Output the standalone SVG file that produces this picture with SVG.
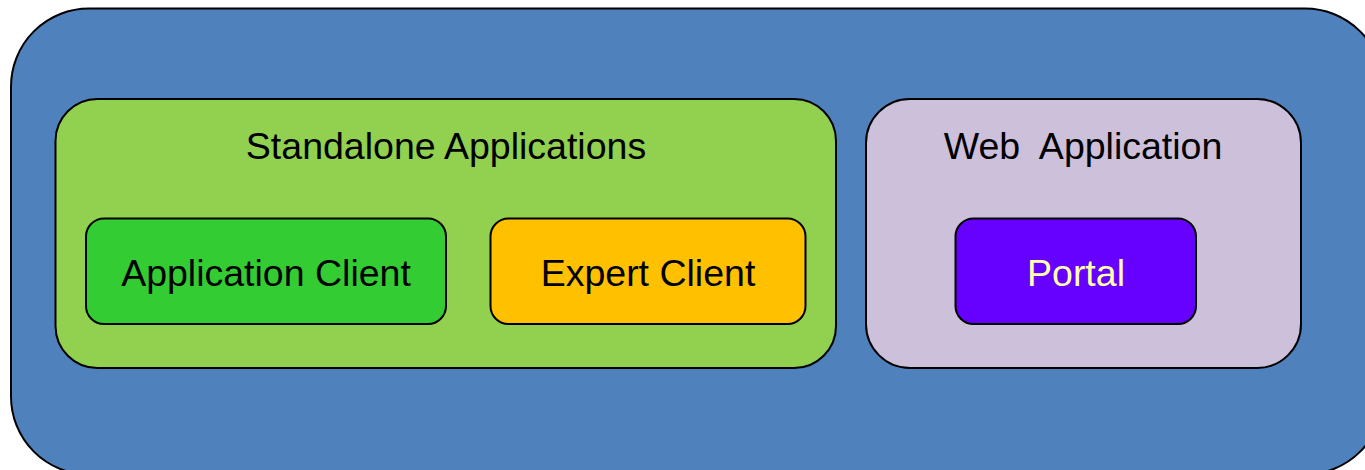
<svg xmlns="http://www.w3.org/2000/svg" width="1365" height="470" viewBox="0 0 1365 470">
<style>
.b{stroke:#000;stroke-width:2}
text{font-family:"Liberation Sans",Arial,sans-serif;font-size:37.5px;text-anchor:middle;fill:#000}
</style>
<rect width="1365" height="470" fill="#fff"/>
<g id="outer"><rect class="b" x="11" y="8.5" width="1372" height="466" rx="78" fill="#4f81bd"/></g>
<g id="standalone"><rect class="b" x="55.5" y="99" width="780.5" height="269" rx="42" fill="#92d050"/><text x="446" y="159">Standalone Applications</text></g>
<g id="web"><rect class="b" x="866" y="99" width="435" height="269" rx="44" fill="#ccc0da"/><text x="1083" y="159" xml:space="preserve">Web  Application</text></g>
<g id="appclient"><rect class="b" x="86" y="218.5" width="360" height="105.5" rx="18" fill="#33cc33"/><text x="266" y="286">Application Client</text></g>
<g id="expert"><rect class="b" x="490.5" y="218.5" width="315" height="105.5" rx="18" fill="#ffc000"/><text x="648" y="286">Expert Client</text></g>
<g id="portal"><rect class="b" x="955.5" y="218.5" width="240.5" height="105.5" rx="18" fill="#6600ff"/><text x="1076" y="286" style="fill:#ffffa8">Portal</text></g>
<g id="connectors"></g>
</svg>
